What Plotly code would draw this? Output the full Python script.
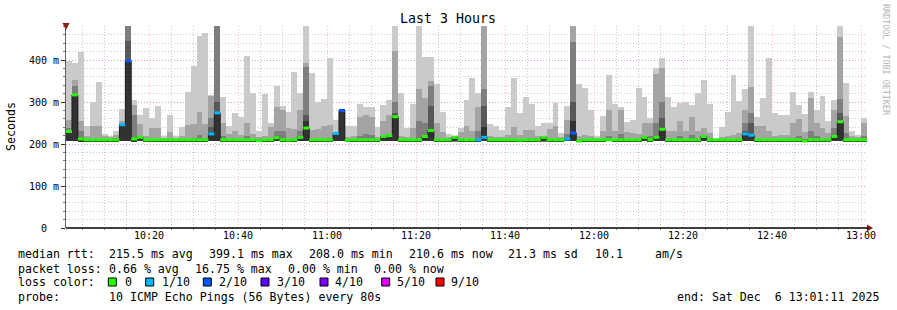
import plotly.graph_objects as go
from datetime import datetime, timedelta

# ---------------- data (ms) ----------------
start_time = datetime(2025, 12, 6, 10, 1, 20)
step_seconds = 80
floor_ms = 207  # lowest ping of each step (approx.)

# top of each smoke band (10 pings, sorted): p10 = max ... p6 = upper middle
p10 = [398, 394, 420, 242, 300, 348, 224, 220, 232, 283, 480, 304, 269, 285, 261, 290, 220, 269, 218, 240,
       324, 386, 457, 465, 316, 480, 312, 244, 274, 264, 410, 322, 230, 320, 250, 338, 290, 277, 372, 322,
       480, 370, 300, 306, 404, 258, 284, 242, 242, 296, 288, 288, 240, 293, 304, 480, 322, 238, 296, 480,
       408, 408, 344, 276, 224, 218, 238, 304, 358, 322, 480, 248, 242, 234, 288, 356, 274, 312, 296, 242,
       250, 250, 298, 226, 290, 480, 344, 334, 280, 218, 266, 364, 296, 288, 252, 258, 334, 312, 262, 382,
       405, 312, 288, 298, 300, 293, 322, 352, 296, 214, 240, 276, 364, 302, 330, 480, 264, 309, 405, 273,
       268, 268, 324, 294, 272, 324, 280, 314, 254, 304, 480, 345, 230, 222, 261]
p9 = [258, 353, 254, 218, 242, 242, 218, 216, 222, 254, 480, 294, 248, 218, 238, 238, 214, 228, 214, 218,
      246, 248, 276, 248, 314, 480, 250, 224, 230, 222, 250, 224, 216, 218, 240, 288, 280, 238, 236, 282,
      392, 234, 236, 242, 246, 226, 282, 216, 218, 264, 270, 264, 216, 255, 270, 422, 220, 216, 238, 332,
      310, 350, 250, 228, 216, 216, 228, 242, 230, 288, 480, 218, 216, 216, 222, 240, 222, 234, 234, 218,
      216, 236, 242, 216, 256, 480, 220, 222, 220, 214, 230, 280, 230, 280, 228, 226, 224, 250, 250, 366,
      382, 230, 232, 254, 232, 264, 230, 238, 226, 212, 216, 220, 222, 226, 282, 336, 242, 244, 232, 220,
      222, 222, 250, 260, 228, 310, 250, 238, 226, 280, 456, 266, 218, 216, 250]
p8 = [238, 338, 230, 210, 212, 212, 210, 210, 212, 235, 480, 270, 220, 210, 212, 212, 210, 212, 210, 210,
      212, 214, 222, 214, 262, 480, 220, 212, 212, 210, 218, 212, 210, 210, 212, 232, 232, 212, 212, 232,
      384, 212, 212, 212, 214, 212, 260, 210, 210, 220, 224, 222, 210, 222, 225, 300, 210, 210, 212, 254,
      250, 338, 214, 212, 210, 210, 212, 212, 212, 232, 330, 210, 210, 210, 212, 212, 210, 212, 214, 210,
      210, 212, 212, 210, 224, 442, 210, 210, 210, 210, 212, 220, 212, 224, 212, 212, 212, 220, 218, 250,
      300, 212, 212, 218, 212, 222, 212, 222, 212, 210, 210, 210, 210, 212, 250, 274, 212, 212, 212, 210,
      212, 212, 214, 220, 212, 230, 218, 212, 212, 238, 308, 226, 210, 210, 218]
p7 = [226, 285, 210, 208, 208, 208, 208, 208, 208, 240, 446, 212, 216, 208, 208, 208, 208, 208, 208, 208,
      208, 208, 208, 208, 240, 300, 208, 208, 208, 208, 208, 208, 208, 208, 208, 220, 212, 208, 208, 220,
      270, 208, 208, 208, 208, 222, 280, 208, 208, 208, 208, 208, 208, 218, 220, 275, 208, 208, 208, 212,
      222, 290, 208, 208, 208, 216, 208, 208, 208, 212, 290, 208, 208, 208, 208, 208, 208, 208, 210, 208,
      216, 208, 208, 208, 214, 300, 208, 208, 208, 208, 208, 212, 208, 210, 208, 208, 208, 216, 208, 220,
      262, 208, 208, 208, 208, 208, 208, 218, 208, 208, 208, 208, 208, 208, 230, 250, 208, 208, 208, 208,
      208, 208, 208, 208, 208, 212, 208, 208, 208, 220, 275, 212, 208, 208, 208]
p6 = [226, 317, 210, 208, 208, 208, 208, 208, 208, 246, 398, 208, 216, 208, 208, 208, 208, 208, 208, 208,
      208, 208, 208, 208, 224, 274, 208, 208, 208, 208, 208, 208, 208, 208, 208, 215, 208, 208, 208, 216,
      254, 208, 208, 208, 208, 225, 280, 208, 208, 208, 208, 208, 208, 218, 220, 265, 208, 208, 208, 208,
      218, 232, 208, 208, 208, 216, 208, 208, 208, 210, 240, 208, 208, 208, 208, 208, 208, 208, 210, 208,
      216, 208, 208, 208, 214, 254, 208, 208, 208, 208, 208, 212, 208, 208, 208, 208, 208, 216, 208, 216,
      235, 208, 208, 208, 208, 208, 208, 218, 208, 208, 208, 208, 208, 208, 224, 224, 208, 208, 208, 208,
      208, 208, 208, 208, 208, 208, 208, 208, 208, 218, 254, 208, 208, 208, 208]
median = [230, 317, 212, 210, 210, 210, 210, 210, 210, 246, 398, 212, 216, 210, 210, 210, 210, 210, 210, 210,
          210, 210, 210, 210, 224, 274, 210, 210, 210, 210, 210, 210, 208, 210, 210, 215, 210, 209, 210, 216,
          238, 210, 210, 210, 210, 225, 280, 209, 210, 210, 210, 210, 210, 218, 220, 265, 210, 210, 210, 210,
          218, 232, 210, 210, 210, 216, 210, 210, 210, 210, 216, 210, 210, 210, 210, 210, 209, 210, 210, 210,
          216, 210, 210, 210, 212, 226, 207, 210, 210, 210, 210, 210, 210, 210, 210, 210, 210, 216, 210, 216,
          235, 210, 210, 210, 210, 210, 210, 218, 210, 210, 210, 210, 210, 210, 224, 221, 210, 210, 210, 210,
          210, 210, 210, 210, 207, 210, 210, 210, 210, 218, 253, 210, 210, 210, 210]
loss = [0, 0, 0, 0, 0, 0, 0, 0, 0, 1, 2, 0, 0, 0, 0, 0, 0, 0, 0, 0,
        0, 0, 0, 0, 1, 1, 0, 0, 0, 0, 0, 0, 0, 0, 0, 0, 0, 0, 0, 0,
        0, 0, 0, 0, 0, 1, 2, 0, 0, 0, 0, 0, 0, 0, 0, 0, 0, 0, 0, 0,
        0, 0, 0, 0, 0, 0, 0, 0, 0, 1, 1, 0, 0, 0, 0, 0, 0, 0, 0, 0,
        0, 0, 0, 0, 1, 2, 0, 0, 0, 0, 0, 0, 0, 0, 0, 0, 0, 0, 0, 0,
        0, 0, 0, 0, 0, 0, 0, 0, 0, 0, 0, 0, 0, 0, 1, 1, 0, 0, 0, 0,
        0, 0, 0, 0, 0, 0, 0, 0, 0, 0, 0, 0, 0, 0, 0]

y_tick_vals = [0, 100, 200, 300, 400]
y_tick_text = ["0\u00a0\u00a0", "100 m", "200 m", "300 m", "400 m"]

loss_levels = [0, 1, 2, 3, 4, 5, 9]
loss_labels = ["0", "1/10", "2/10", "3/10", "4/10", "5/10", "9/10"]
loss_colors = ["#26ff00", "#00b8ff", "#0059ff", "#5e00ff", "#7e00ff", "#dd00ff", "#ff0000"]

stats_line1 = ["median rtt:", "215.5 ms avg", "399.1 ms max", "208.0 ms min", "210.6 ms now",
               "21.3 ms sd", "10.1", "am/s"]
stats_line2 = ["packet loss:", "0.66 % avg", "16.75 % max", "0.00 % min", "0.00 % now"]
probe_text = ["probe:", "10 ICMP Echo Pings (56 Bytes) every 80s"]
end_text = "end: Sat Dec  6 13:01:11 2025"

# ---------------- geometry ----------------
W, H = 897, 310
L, R, T, B = 66, 30, 26, 82
PW, PH = W - L - R, H - T - B
n = len(median)
end_time = start_time + timedelta(seconds=step_seconds * n)
y_max = 481


def px(x):
    return (x - L) / PW


def py(y):
    return (H - B - y) / PH


MONO = "DejaVu Sans Mono"
MAJOR_GRID = "rgba(255,110,110,0.45)"
MINOR_GRID = "rgba(150,150,150,0.5)"
GRID_DASH = "1px,2px"

step = timedelta(seconds=step_seconds)
x_centers = [start_time + step * k + step / 2 for k in range(n)]
x_edges = [start_time + step * k for k in range(n + 1)]

fig = go.Figure()

bands = [(p10, "#cacaca"), (p9, "#a4a4a4"), (p8, "#7e7e7e"), (p7, "#585858"), (p6, "#323232")]
for vals, col in bands:
    fig.add_trace(go.Bar(
        x=x_centers, y=[max(v - floor_ms, 0) for v in vals], base=floor_ms,
        width=step_seconds * 1000, marker=dict(color=col, line=dict(width=0)),
        hoverinfo="skip", showlegend=False))

# median step line (dark)
fig.add_trace(go.Scatter(x=x_edges, y=median + [median[-1]], mode="lines",
                         line=dict(color="#202020", width=1, shape="hv"),
                         hoverinfo="skip", showlegend=False))

# loss coloured median segments
for lvl, col in zip(loss_levels, loss_colors):
    xs, ys = [], []
    for k in range(n):
        if loss[k] == lvl:
            xs += [x_edges[k], x_edges[k + 1], None]
            ys += [median[k], median[k], None]
    if xs:
        fig.add_trace(go.Scatter(x=xs, y=ys, mode="lines", line=dict(color=col, width=3),
                                 hoverinfo="skip", showlegend=False, connectgaps=False))

annotations = []
shapes = []

# title, axis title, watermark
annotations.append(dict(text="Last 3 Hours", x=px(448), y=py(19), xref="paper", yref="paper",
                        showarrow=False, font=dict(family=MONO, size=13.3, color="#000"),
                        xanchor="center", yanchor="middle"))
annotations.append(dict(text="Seconds", x=px(11), y=py(127), xref="paper", yref="paper",
                        showarrow=False, textangle=-90, font=dict(family=MONO, size=11.6, color="#000"),
                        xanchor="center", yanchor="middle"))
annotations.append(dict(text="RRDTOOL / TOBI OETIKER", x=px(886), y=py(60), xref="paper", yref="paper",
                        showarrow=False, textangle=90, font=dict(family=MONO, size=8.4, color="#b4b4b4"),
                        xanchor="center", yanchor="middle"))


def text_at(t, x, y, anchor="left"):
    annotations.append(dict(text=t, x=px(x), y=py(y), xref="paper", yref="paper", showarrow=False,
                            font=dict(family=MONO, size=11.6, color="#000"),
                            xanchor=anchor, yanchor="middle"))


line1_x = [16, 107.3, 207.3, 307.3, 407.3, 505.7, 592.5, 652.7]
for t, x in zip(stats_line1, line1_x):
    text_at(t, x, 254)
line2_x = [16, 107.3, 193.3, 286.3, 372.3]
for t, x in zip(stats_line2, line2_x):
    text_at(t, x, 268.5)
text_at("loss color:", 16, 282)
sq_x = [108.3, 145.7, 203.3, 261, 320, 381.7, 436]
lab_x = [123.3, 160, 216.7, 275, 333.3, 395, 449.3]
for lab, col, sx, lx in zip(loss_labels, loss_colors, sq_x, lab_x):
    shapes.append(dict(type="rect", xref="paper", yref="paper", x0=px(sx), x1=px(sx + 8),
                       y0=py(286), y1=py(278), fillcolor=col, line=dict(color="#000", width=1)))
    text_at(lab, lx, 282)
text_at(probe_text[0], 16, 296.5)
text_at(probe_text[1], 107.3, 296.5)
text_at(end_text, 881, 296.5, anchor="right")

# axis arrows
shapes.append(dict(type="path", xref="paper", yref="paper", xsizemode="pixel", ysizemode="pixel",
                   xanchor=0, yanchor=1, path="M -3.5 3 L 3.5 3 L 0 -4 Z",
                   fillcolor="#8b1a1a", line=dict(width=0)))
shapes.append(dict(type="path", xref="paper", yref="paper", xsizemode="pixel", ysizemode="pixel",
                   xanchor=px(867), yanchor=0, path="M 0 -3.5 L 0 3.5 L 6 0 Z",
                   fillcolor="#8b1a1a", line=dict(width=0)))
shapes.append(dict(type="line", xref="paper", yref="paper", x0=0, x1=px(868), y0=0, y1=0,
                   line=dict(color="#000", width=1.3)))

fig.update_layout(
    width=W, height=H, margin=dict(l=L, r=R, t=T, b=B, pad=0),
    paper_bgcolor="white", plot_bgcolor="white", barmode="overlay", bargap=0,
    showlegend=False, annotations=annotations, shapes=shapes,
    font=dict(family=MONO, size=10, color="#000"),
)
fig.update_xaxes(
    type="date", range=[start_time, end_time], dtick=1200000, tickformat="%H:%M",
    showgrid=True, gridcolor=MAJOR_GRID, griddash=GRID_DASH, gridwidth=1,
    ticks="", showline=False, zeroline=False,
    tickfont=dict(family=MONO, size=10, color="#000"),
    minor=dict(dtick=300000, showgrid=True, gridcolor=MINOR_GRID, griddash=GRID_DASH,
               ticks="outside", ticklen=1, tickcolor="#777"),
)
fig.update_yaxes(
    range=[0, y_max], tickvals=y_tick_vals, ticktext=y_tick_text,
    showgrid=True, gridcolor=MAJOR_GRID, griddash=GRID_DASH, gridwidth=1,
    ticks="outside", ticklen=4, tickcolor="#333", showline=True, linecolor="#606060", linewidth=1,
    zeroline=False, tickfont=dict(family=MONO, size=10, color="#000"),
    minor=dict(dtick=20, showgrid=True, gridcolor=MINOR_GRID, griddash=GRID_DASH,
               ticks="outside", ticklen=2, tickcolor="#777"),
)

fig.write_html("out.html")
